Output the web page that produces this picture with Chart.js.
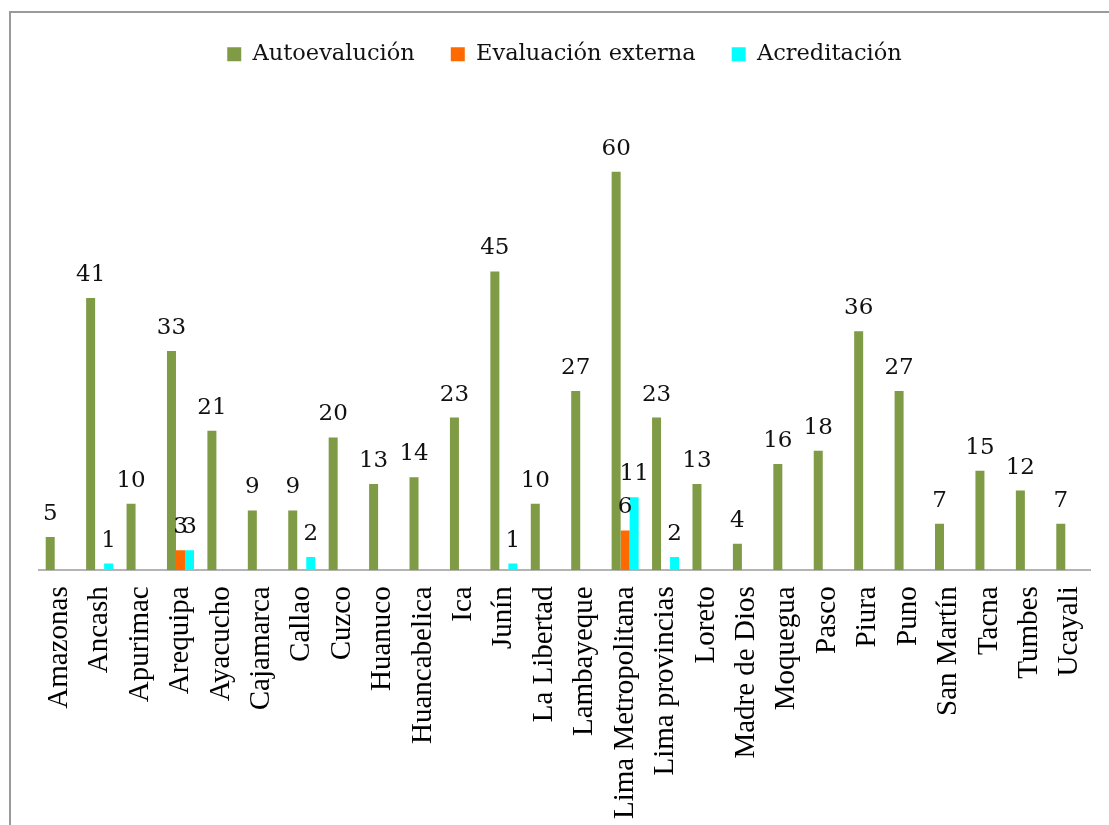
<!DOCTYPE html>
<html>
<head>
<meta charset="utf-8">
<script src="https://cdn.jsdelivr.net/npm/chart.js@4/dist/chart.umd.min.js"></script>
<style>
    html, body { margin: 0; padding: 0; background: #fff; overflow: hidden; }
</style>
</head>
<body>
<canvas id="barChart" width="1109" height="825"></canvas>
<script>
const regions = ["Amazonas", "Ancash", "Apurimac", "Arequipa", "Ayacucho", "Cajamarca", "Callao", "Cuzco",
    "Huanuco", "Huancabelica", "Ica", "Junín", "La Libertad", "Lambayeque", "Lima Metropolitana",
    "Lima provincias", "Loreto", "Madre de Dios", "Moquegua", "Pasco", "Piura", "Puno", "San Martín",
    "Tacna", "Tumbes", "Ucayali"];
const autoevaluacion = [5, 41, 10, 33, 21, 9, 9, 20, 13, 14, 23, 45, 10, 27, 60, 23, 13, 4, 16, 18, 36, 27, 7, 15, 12, 7];
const evaluacionExterna = [0, 0, 0, 3, 0, 0, 0, 0, 0, 0, 0, 0, 0, 0, 6, 0, 0, 0, 0, 0, 0, 0, 0, 0, 0, 0];
const acreditacion = [0, 1, 0, 3, 0, 0, 2, 0, 0, 0, 0, 1, 0, 0, 11, 2, 0, 0, 0, 0, 0, 0, 0, 0, 0, 0];

// grey frame of the chart box (only top and left edges are inside the picture)
const frame = {
    id: "frame",
    beforeDraw(chart) {
        const ctx = chart.ctx;
        ctx.save();
        ctx.strokeStyle = "#9a9a9a";
        ctx.lineWidth = 2;
        ctx.beginPath();
        ctx.moveTo(10, chart.height);
        ctx.lineTo(10, 12);
        ctx.lineTo(chart.width, 12);
        ctx.stroke();
        ctx.restore();
    },
};

// draws the value above each bar (zeros are skipped)
const valueLabels = {
    id: "valueLabels",
    afterDatasetsDraw(chart) {
        const ctx = chart.ctx;
        ctx.save();
        ctx.font = "23px 'DejaVu Serif'";
        ctx.fillStyle = "#111";
        ctx.textAlign = "center";
        ctx.textBaseline = "alphabetic";
        chart.data.datasets.forEach((ds, i) => {
            chart.getDatasetMeta(i).data.forEach((bar, j) => {
                const v = ds.data[j];
                if (v > 0) ctx.fillText(v, bar.x, bar.y - 17);
            });
        });
        ctx.restore();
    },
};

const ctx = document.getElementById("barChart");
const chart = new Chart(ctx, {
    type: "bar",
    data: {
        labels: regions,
        datasets: [
            { label: "Autoevalución", data: autoevaluacion, backgroundColor: "#7f9b45" },
            { label: "Evaluación externa", data: evaluacionExterna, backgroundColor: "#ff6a00" },
            { label: "Acreditación", data: acreditacion, backgroundColor: "#00ffff" },
        ],
    },
    options: {
        responsive: false,
        animation: false,
        devicePixelRatio: 1,
        categoryPercentage: 0.668,
        barPercentage: 1.0,
        layout: { padding: { left: 39, right: 19, top: 7, bottom: -10 } },
        plugins: {
            tooltip: { enabled: false },
            legend: {
                position: "top",
                labels: {
                    boxWidth: 14,
                    boxHeight: 14,
                    padding: 36,
                    color: "#111",
                    font: { family: "'DejaVu Serif'", size: 22.5 },
                },
            },
        },
        scales: {
            x: {
                afterFit(scale) {
                    scale.paddingLeft = 0;
                    scale.paddingRight = 0;
                },
                grid: { display: false, drawTicks: false },
                border: { display: true, color: "#b4b4b4", width: 2 },
                ticks: {
                    autoSkip: false,
                    minRotation: 90,
                    maxRotation: 90,
                    padding: 16,
                    color: "#000",
                    font: { family: "'Liberation Serif'", size: 29 },
                },
            },
            y: {
                display: false,
                min: 0,
                max: 74.5,
            },
        },
    },
    plugins: [frame, valueLabels],
});
</script>
</body>
</html>
